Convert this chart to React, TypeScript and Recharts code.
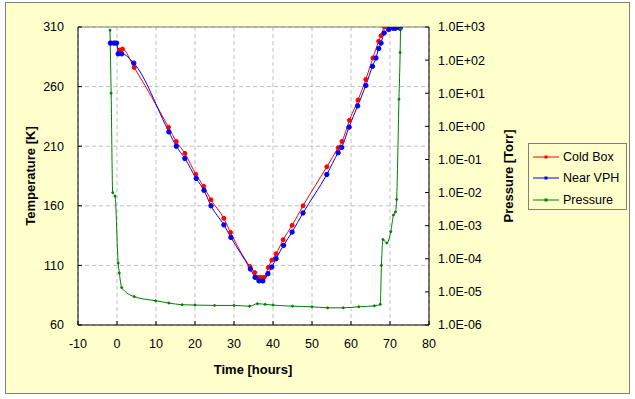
import React from 'react';
import { LineChart, Line, XAxis, YAxis, CartesianGrid, ReferenceLine, Legend } from 'recharts';

const coldBoxTime = [-1.5, -0.5, 0.7, 1.4, 4.4, 13.2, 15.2, 17.4, 20.2, 22.2, 24.1, 27.4, 29.1, 34.1, 35.3, 36.0, 36.8, 37.7, 38.8, 39.7, 40.8, 42.6, 44.9, 47.7, 53.8, 56.7, 57.7, 59.6, 61.8, 63.8, 65.6, 67.1, 67.7, 68.6, 69.7, 70.8, 71.7];
const coldBoxTemp = [296.5, 296.5, 290.6, 291.5, 276, 226, 214, 204, 186.5, 176.4, 165, 149.5, 137.7, 109, 104, 100, 100, 100, 108.3, 114.5, 119.8, 131.5, 143.6, 160, 192.7, 208.7, 214, 231.7, 248.8, 266, 284, 298, 302.7, 310, 310, 310, 310];

const nearVphTime = [-1.7, -0.8, -0.1, 0.3, 1.2, 4.3, 13.3, 15.2, 17.4, 20.3, 22.3, 24.1, 27.4, 29.2, 34.2, 35.4, 36.4, 37.4, 38.7, 39.7, 40.8, 42.7, 44.9, 47.7, 53.8, 56.7, 57.6, 59.5, 61.7, 63.8, 65.5, 66.4, 67.1, 67.7, 68.5, 69.7, 70.8, 71.4, 72.6];
const nearVphTemp = [296.5, 296.5, 296.5, 287.5, 287.5, 279.7, 222, 210, 199.7, 183, 173, 160, 144, 133.5, 107, 100, 97, 97, 103, 108.6, 115.6, 126.8, 138, 154, 186.3, 204.5, 209, 226, 243.8, 261, 277, 284, 292, 296.5, 305, 308, 309, 309, 309];

const pressureTime = [-1.8, -1.5, -1.1, -0.5, 0.3, 0.6, 1.2, 4.4, 9.9, 13.3, 16.7, 20, 25, 30, 34, 36, 38, 40, 45, 50, 54, 58, 62, 66, 67.5, 67.8, 68.2, 69.2, 70.2, 70.9, 71.4, 71.7, 72.3, 72.6, 72.7];
const pressureTorr = [8e2, 1e1, 1e-2, 7.8e-3, 7.4e-5, 3.7e-5, 1.35e-5, 7.2e-6, 5.4e-6, 4.6e-6, 4.1e-6, 4.0e-6, 3.9e-6, 3.9e-6, 3.7e-6, 4.4e-6, 4.2e-6, 4.0e-6, 3.7e-6, 3.55e-6, 3.3e-6, 3.3e-6, 3.55e-6, 3.8e-6, 4.2e-6, 6.3e-5, 3.8e-4, 3.0e-4, 6.6e-4, 2.1e-3, 2.6e-3, 6.2e-3, 6.6, 1.7e2, 8.7e2];

const timeTicks = [-10, 0, 10, 20, 30, 40, 50, 60, 70, 80];
const tempTicks = [60, 110, 160, 210, 260, 310];
const pressureTicks = [1e-6, 1e-5, 1e-4, 1e-3, 1e-2, 1e-1, 1e0, 1e1, 1e2, 1e3];

const seriesNames = ['Cold Box', 'Near VPH', 'Pressure'];
const seriesColors = ['#FF0000', '#0000FF', '#008000'];

const coldBox = coldBoxTime.map((t, i) => ({ t, v: coldBoxTemp[i] }));
const nearVph = nearVphTime.map((t, i) => ({ t, v: nearVphTemp[i] }));
const pressure = pressureTime.map((t, i) => ({ t, p: pressureTorr[i] }));

const FONT = '"Liberation Sans", Arial, sans-serif';
const tickStyle = { fill: '#000', fontSize: 12.5, fontFamily: FONT };

const fmtExp = (v: number) => {
  const e = Math.round(Math.log10(v));
  return `1.0E${e < 0 ? '-' : '+'}${String(Math.abs(e)).padStart(2, '0')}`;
};

const LegendBox = () => (
  <div style={{ width: 97, height: 65, border: '1px solid #808080', background: '#FFFFCC', fontFamily: FONT, fontSize: 12.5, boxSizing: 'content-box' }}>
    {seriesNames.map((n, i) => (
      <div key={n} style={{ display: 'flex', alignItems: 'center', height: 21.5, marginTop: i === 0 ? 2 : 0 }}>
        <svg width={30} height={10} style={{ marginLeft: 4 }}>
          <line x1={0} y1={5} x2={26} y2={5} stroke={seriesColors[i]} strokeWidth={1} />
          <rect x={11.5} y={3.5} width={3} height={3} fill={seriesColors[i]} />
        </svg>
        <span style={{ color: '#000' }}>{n}</span>
      </div>
    ))}
  </div>
);

export default function App() {
  return (
    <div style={{ position: 'absolute', left: 0, top: 0, width: 635, height: 399, background: '#fff' }}>
      <div style={{ position: 'absolute', left: 5, top: 2, width: 623, height: 390, background: '#FFFFCC', border: '1px solid #808080' }} />
      <div style={{ position: 'absolute', left: 0, top: 0 }}>
        <LineChart width={635} height={399} margin={{ top: 27, right: 126, bottom: 24, left: 0 }}>
          <CartesianGrid yAxisId="left" stroke="#C0C0C0" strokeDasharray="4 3" fill="#FFFFFF" />
          <XAxis
            dataKey="t"
            type="number"
            domain={[-10, 80]}
            ticks={timeTicks}
            allowDataOverflow
            height={50}
            tick={tickStyle}
            tickSize={-4}
            tickMargin={18}
            axisLine={{ stroke: '#000' }}
            tickLine={{ stroke: '#000' }}
          />
          <YAxis
            yAxisId="left"
            type="number"
            domain={[60, 310]}
            ticks={tempTicks}
            allowDataOverflow
            width={78}
            tick={tickStyle}
            tickSize={-4}
            tickMargin={18}
            axisLine={{ stroke: '#000' }}
            tickLine={{ stroke: '#000' }}
          />
          <YAxis
            yAxisId="right"
            orientation="right"
            type="number"
            scale="log"
            domain={[1e-6, 1e3]}
            ticks={pressureTicks}
            allowDataOverflow
            width={80}
            tick={{ ...tickStyle, textAnchor: 'start' }}
            tickFormatter={fmtExp}
            tickSize={-4}
            tickMargin={13}
            axisLine={{ stroke: '#000' }}
            tickLine={{ stroke: '#000' }}
          />
          <ReferenceLine yAxisId="left" y={310} stroke="#808080" strokeWidth={1} ifOverflow="visible" />
          <Legend
            layout="horizontal"
            verticalAlign="middle"
            align="center"
            content={() => <LegendBox />}
            wrapperStyle={{ position: 'absolute', left: 528, top: 143, width: 99, height: 67 }}
          />
          <Line
            yAxisId="left"
            data={coldBox}
            dataKey="v"
            name="Cold Box"
            type="monotone"
            stroke="#FF0000"
            strokeWidth={1}
            dot={{ r: 2, fill: '#FF0000', stroke: '#FF0000', strokeWidth: 1 }}
            isAnimationActive={false}
          />
          <Line
            yAxisId="left"
            data={nearVph}
            dataKey="v"
            name="Near VPH"
            type="monotone"
            stroke="#0000FF"
            strokeWidth={1}
            dot={{ r: 2.2, fill: '#0000FF', stroke: '#0000FF', strokeWidth: 1 }}
            isAnimationActive={false}
          />
          <Line
            yAxisId="right"
            data={pressure}
            dataKey="p"
            name="Pressure"
            type="monotone"
            stroke="#008000"
            strokeWidth={1}
            dot={{ r: 1, fill: '#008000', stroke: '#008000', strokeWidth: 1 }}
            isAnimationActive={false}
          />
        </LineChart>
      </div>
      <div style={{ position: 'absolute', left: 253, top: 369, transform: 'translate(-50%, -50%)', fontFamily: FONT, fontWeight: 'bold', fontSize: 13, whiteSpace: 'nowrap' }}>Time [hours]</div>
      <div style={{ position: 'absolute', left: 30, top: 176, transform: 'translate(-50%, -50%) rotate(-90deg)', fontFamily: FONT, fontWeight: 'bold', fontSize: 13, whiteSpace: 'nowrap' }}>Temperature [K]</div>
      <div style={{ position: 'absolute', left: 508, top: 176, transform: 'translate(-50%, -50%) rotate(-90deg)', fontFamily: FONT, fontWeight: 'bold', fontSize: 13, whiteSpace: 'nowrap' }}>Pressure [Torr]</div>
    </div>
  );
}
